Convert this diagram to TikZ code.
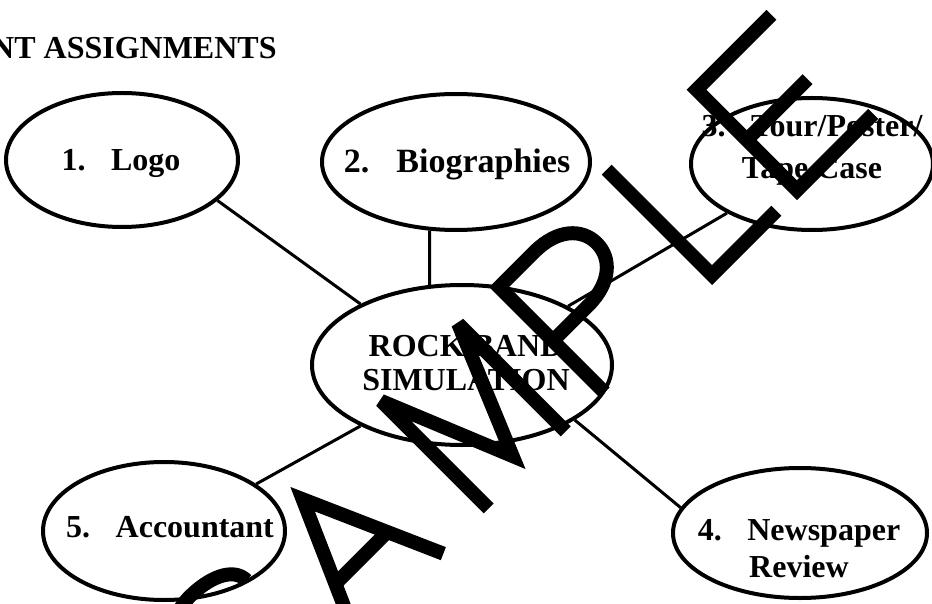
\documentclass[tikz,border=0pt]{standalone}
\usepackage{fontspec}
\setmainfont{Liberation Serif}
\usetikzlibrary{shapes.geometric}
\tikzstyle{bubble}=[
    draw,ellipse,line width=4pt,inner sep=0pt]
\tikzstyle{tag}=[
    font=\fontsize{32}{37}\selectfont\bfseries,align=center,inner sep=0pt]
\tikzstyle{spoke}=[line width=3pt]
\tikzstyle{stamp}=[line width=14pt,line join=miter,miter limit=3]
\newcommand{\gap}{\hspace{0.8em}}

\begin{document}
\begin{tikzpicture}[x=1pt,y=-1pt]

    \useasboundingbox (0,0) rectangle (932,604);

    \node[anchor=base west,inner sep=0pt,font=\fontsize{32}{38}\selectfont\bfseries]
        (title) at (-9,59) {NT ASSIGNMENTS};

    \node[bubble,minimum width=300pt,minimum height=160pt] (core)  at (462,365) {};
    \node[bubble,minimum width=232pt,minimum height=134pt] (logo)  at (122,160) {};
    \node[bubble,minimum width=268pt,minimum height=136pt] (bio)   at (456,162) {};
    \node[bubble,minimum width=242pt,minimum height=132pt] (tour)  at (812,164) {};
    \node[bubble,minimum width=254pt,minimum height=130pt] (paper) at (800,533) {};
    \node[bubble,minimum width=242pt,minimum height=138pt] (acct)  at (164,531) {};

    \node[tag,font=\fontsize{32}{34}\selectfont\bfseries] (coretxt) at (466,363) {ROCK BAND\\SIMULATION};
    \node[tag] (logotxt)  at (121,163) {1.\gap Logo};
    \node[tag,font=\fontsize{34}{37}\selectfont\bfseries] (biotxt) at (457,164) {2.\gap Biographies};
    \node[tag,font=\fontsize{32}{42}\selectfont\bfseries] (tourtxt) at (812,150) {3.\gap Tour/Poster/\\Tape Case};
    \node[tag] (papertxt) at (799,549) {4.\gap Newspaper\\Review};
    \node[tag] (accttxt)  at (170,527) {5.\gap Accountant};

    \draw[spoke] (logo.-23.6)  -- (core.149.4);
    \draw[spoke] (bio.249.4)   -- (core.112.8);
    \draw[spoke] (tour.210.2)  -- (core.29);
    \draw[spoke] (paper.168.7) -- (core.-26);
    \draw[spoke] (acct.27)     -- (core.211.2);

    \begin{scope}[shift={(498.5,498.5)},x={(0.7071pt,0.7071pt)},y={(-0.7071pt,0.7071pt)}]
        \draw[stamp] (-236,120) .. controls (-236,140) and (-262,149) .. (-288,149)
                     .. controls (-314,149) and (-333,134) .. (-333,113)
                     .. controls (-333,92) and (-310,86) .. (-288,80)
                     .. controls (-262,74) and (-240,64) .. (-240,42)
                     .. controls (-240,20) and (-264,7) .. (-290,7)
                     .. controls (-318,7) and (-340,20) .. (-342,40);
        \draw[stamp] (-200,0) -- (-139,138) -- (-78,0);
        \draw[stamp] (-176,55) -- (-102,55);
        \draw[stamp] (-14,0) -- (-14,152) -- (40,20) -- (95,152) -- (95,0);
        \draw[stamp] (150,0) -- (150,149) -- (200,149)
                     .. controls (232,149) and (250,132) .. (250,111)
                     .. controls (250,90) and (232,73) .. (200,73) -- (150,73);
        \draw[stamp] (309,156) -- (309,7) -- (400,7);
        \draw[stamp] (535,149) -- (429,149) -- (429,7) -- (537,7);
        \draw[stamp] (429,78) -- (515,78);
    \end{scope}
\end{tikzpicture}
\end{document}
